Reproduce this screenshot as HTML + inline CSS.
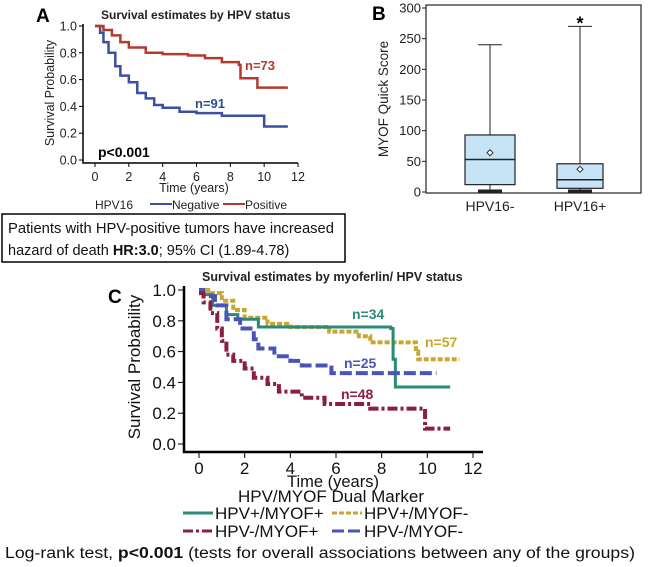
<!DOCTYPE html>
<html><head><meta charset="utf-8"><style>
body{margin:0;background:#fff;font-family:"Liberation Sans",sans-serif}
svg{display:block}
</style></head><body>
<svg id="s" width="650" height="567" xmlns="http://www.w3.org/2000/svg" font-family="Liberation Sans, sans-serif">
<g id="A"></g>
<g id="B"></g>
<g id="C"></g>
</svg>
<script>
const ns="http://www.w3.org/2000/svg";
// Panel A data
const aTicksX=[0,2,4,6,8,10,12];
const aTicksY=[0,0.2,0.4,0.6,0.8,1.0];
const aNegT=[0,0.3,0.5,0.8,1.2,1.5,2,2.5,3,3.5,4,5,6,7.5,10,11.4];
const aNegS=[1,0.95,0.88,0.8,0.7,0.63,0.58,0.5,0.46,0.41,0.39,0.36,0.35,0.33,0.25,0.25];
const aPosT=[0,0.5,1,1.5,2,3,4,5.5,6.5,7.5,8.5,8.6,9.6,11.4];
const aPosS=[1,0.97,0.93,0.88,0.84,0.8,0.79,0.78,0.76,0.73,0.71,0.61,0.54,0.54];
// Panel B data
const bCats=["HPV16-","HPV16+"];
const bMin=[0,0],bQ1=[12,6],bMed=[53,20],bQ3=[93,46],bMax=[240,270],bMean=[64,37];
const bTicks=[0,50,100,150,200,250,300];
// Panel C data
const cTicksX=[0,2,4,6,8,10,12];
const cTicksY=[0,0.2,0.4,0.6,0.8,1.0];
const c1T=[0,0.2,0.6,1.2,1.7,2.6,8.4,8.5,8.6,11];
const c1S=[1,0.97,0.9,0.84,0.81,0.76,0.75,0.55,0.37,0.37];
const c2T=[0,0.4,1,1.5,2,3,4,5.7,7,7.5,9.5,9.6,11.4];
const c2S=[1,0.98,0.93,0.87,0.82,0.78,0.76,0.73,0.7,0.66,0.6,0.55,0.55];
const c3T=[0,0.2,0.7,1.2,1.8,2.4,2.6,3.3,4,4.5,5.8,10.4];
const c3S=[1,0.96,0.9,0.81,0.75,0.68,0.62,0.57,0.54,0.51,0.46,0.46];
const c4T=[0,0.2,0.5,0.8,1,1.2,1.5,2,2.4,3,3.5,4.5,5.5,7.5,9.9,11];
const c4S=[0.98,0.92,0.85,0.75,0.67,0.58,0.54,0.49,0.43,0.39,0.34,0.3,0.26,0.23,0.1,0.1];

function el(p,tag,at,txt){const e=document.createElementNS(ns,tag);for(const k in at)e.setAttribute(k,at[k]);if(txt!==undefined)e.textContent=txt;p.appendChild(e);return e;}
function step(T,S,x,y){let d="M"+x(T[0])+","+y(S[0]);for(let i=1;i<T.length;i++){d+="H"+x(T[i])+"V"+y(S[i]);}return d;}

// ---- A
const A=document.getElementById('A');
const ax=t=>95+t*(298-95)/12, ay=v=>160-v*(160-26);
let e=el(A,'text',{x:36,y:22,'font-size':19,'font-weight':'bold'},'A');
e=el(A,'text',{x:101,y:19,'font-size':12,'font-weight':'bold',fill:'#222'},'Survival estimates by HPV status');
e=el(A,'path',{d:'M83,24V163H298',stroke:'#000','stroke-width':1.5,fill:'none'});
aTicksY.forEach(v=>{el(A,'line',{x1:79,x2:83,y1:ay(v),y2:ay(v),stroke:'#000'});e=el(A,'text',{x:77,y:ay(v)+4.5,'font-size':12.5,'text-anchor':'end',fill:'#222'},v.toFixed(1));});
aTicksX.forEach(t=>{el(A,'line',{x1:ax(t),x2:ax(t),y1:163,y2:167,stroke:'#000'});e=el(A,'text',{x:ax(t),y:181,'font-size':12.5,'text-anchor':'middle',fill:'#222'},t);});
e=el(A,'text',{x:194,y:192,'font-size':12.5,'text-anchor':'middle',fill:'#222'},'Time (years)');
e=el(A,'text',{x:54,y:93,'font-size':12.5,'text-anchor':'middle',fill:'#222',transform:'rotate(-90 54 93)'},'Survival Probability');
e=el(A,'path',{d:step(aNegT,aNegS,ax,ay),stroke:'#3a4fa5','stroke-width':2.5,fill:'none'});
e=el(A,'path',{d:step(aPosT,aPosS,ax,ay),stroke:'#b33a2e','stroke-width':2.5,fill:'none'});
e=el(A,'text',{x:245,y:70,'font-size':13,'font-weight':'bold',fill:'#b33a2e'},'n=73');
e=el(A,'text',{x:195,y:108,'font-size':13,'font-weight':'bold',fill:'#2f4d8a'},'n=91');
e=el(A,'text',{x:98,y:157,'font-size':14,'font-weight':'bold'},'p<0.001');
e=el(A,'text',{x:95,y:209,'font-size':12,fill:'#222'},'HPV16');
el(A,'line',{x1:150,x2:172,y1:204,y2:204,stroke:'#3a4fa5','stroke-width':2});
e=el(A,'text',{x:172,y:209,'font-size':12,fill:'#222'},'Negative');
el(A,'line',{x1:223,x2:245,y1:204,y2:204,stroke:'#b33a2e','stroke-width':2});
e=el(A,'text',{x:245,y:209,'font-size':12,fill:'#222'},'Positive');
e=el(A,'rect',{x:2,y:214,width:343,height:48,fill:'#fff',stroke:'#000','stroke-width':1.5});
e=el(A,'text',{x:8,y:233,'font-size':14.5,fill:'#111',textLength:326,lengthAdjust:'spacingAndGlyphs'},'Patients with HPV-positive tumors have increased');
e=el(A,'text',{x:8,y:255,'font-size':14.5,fill:'#111'});e.innerHTML='hazard of death <tspan font-weight="bold">HR:3.0</tspan>; 95% CI (1.89-4.78)';

// ---- B
const B=document.getElementById('B');
const by=v=>192-v*(192-8)/300;
e=el(B,'text',{x:372,y:20,'font-size':19,'font-weight':'bold'},'B');
e=el(B,'rect',{x:426,y:5,width:215,height:188,fill:'none',stroke:'#222','stroke-width':1.2});
bTicks.forEach(v=>{el(B,'line',{x1:422,x2:426,y1:by(v),y2:by(v),stroke:'#222'});e=el(B,'text',{x:421,y:by(v)+4.5,'font-size':13,'text-anchor':'end',fill:'#222'},v);});
e=el(B,'text',{x:388,y:99,'font-size':13.5,'text-anchor':'middle',fill:'#222',transform:'rotate(-90 388 99)'},'MYOF Quick Score');
const bx=[490,580],bw=[50,46];
bCats.forEach((c,i)=>{const x=bx[i],w=bw[i];
 el(B,'line',{x1:x,x2:x,y1:by(bMax[i]),y2:by(bQ3[i]),stroke:'#222'});
 el(B,'line',{x1:x-12,x2:x+12,y1:by(bMax[i]),y2:by(bMax[i]),stroke:'#222'});
 el(B,'line',{x1:x,x2:x,y1:by(bQ1[i]),y2:by(bMin[i]),stroke:'#222'});
 el(B,'line',{x1:x-12,x2:x+12,y1:by(bMin[i])-1,y2:by(bMin[i])-1,stroke:'#222','stroke-width':3});
 e=el(B,'rect',{x:x-w/2,y:by(bQ3[i]),width:w,height:by(bQ1[i])-by(bQ3[i]),fill:'#c6e4f6',stroke:'#222','stroke-width':1.2});
 el(B,'line',{x1:x-w/2,x2:x+w/2,y1:by(bMed[i]),y2:by(bMed[i]),stroke:'#222','stroke-width':1.5});
 const m=by(bMean[i]);el(B,'path',{d:`M${x},${m-3}L${x+3},${m}L${x},${m+3}L${x-3},${m}Z`,fill:'#fff',stroke:'#333'});
 e=el(B,'text',{x:x,y:211,'font-size':14,'text-anchor':'middle',fill:'#222'},c);
});
e=el(B,'text',{x:580,y:by(bMax[1])+3,'font-size':18,'font-weight':'bold','text-anchor':'middle'},'*');

// ---- C
const C=document.getElementById('C');
const cx=t=>199+t*(473-199)/12, cy=v=>444-v*(444-290);
e=el(C,'text',{x:108,y:303,'font-size':19,'font-weight':'bold'},'C');
e=el(C,'text',{x:202,y:281,'font-size':12.5,'font-weight':'bold',fill:'#222'},'Survival estimates by myoferlin/ HPV status');
e=el(C,'path',{d:'M184,286V452H483',stroke:'#000','stroke-width':2.5,fill:'none'});
cTicksY.forEach(v=>{el(C,'line',{x1:178,x2:184,y1:cy(v),y2:cy(v),stroke:'#000'});e=el(C,'text',{x:176,y:cy(v)+6,'font-size':17,'text-anchor':'end',fill:'#111'},v.toFixed(1));});
cTicksX.forEach(t=>{el(C,'line',{x1:cx(t),x2:cx(t),y1:452,y2:458,stroke:'#000'});e=el(C,'text',{x:cx(t),y:474,'font-size':17,'text-anchor':'middle',fill:'#111'},t);});
e=el(C,'text',{x:333,y:487,'font-size':16.5,'text-anchor':'middle',fill:'#111'},'Time (years)');
e=el(C,'text',{x:140,y:367,'font-size':17,'text-anchor':'middle',fill:'#111',transform:'rotate(-90 140 367)'},'Survival Probability');
const teal='#2a8a78',gold='#c8a632',blue='#4a54b8',mar='#8c1d45';
e=el(C,'path',{d:step(c2T,c2S,cx,cy),stroke:gold,'stroke-width':4,fill:'none','stroke-dasharray':'5,2'});
e=el(C,'path',{d:step(c1T,c1S,cx,cy),stroke:teal,'stroke-width':3,fill:'none'});
e=el(C,'path',{d:step(c3T,c3S,cx,cy),stroke:blue,'stroke-width':4,fill:'none','stroke-dasharray':'12,4'});
e=el(C,'path',{d:step(c4T,c4S,cx,cy),stroke:mar,'stroke-width':4,fill:'none','stroke-dasharray':'10,3,3,3'});
e=el(C,'text',{x:352,y:319,'font-size':14,'font-weight':'bold',fill:teal},'n=34');
e=el(C,'text',{x:425,y:347,'font-size':14,'font-weight':'bold',fill:gold},'n=57');
e=el(C,'text',{x:344,y:368,'font-size':14,'font-weight':'bold',fill:blue},'n=25');
e=el(C,'text',{x:341,y:399,'font-size':14,'font-weight':'bold',fill:mar},'n=48');
e=el(C,'text',{x:331,y:502,'font-size':17,'text-anchor':'middle',fill:'#111'},'HPV/MYOF Dual Marker');
const lg=[[183,519,teal,'none','HPV+/MYOF+'],[332,519,gold,'5,2','HPV+/MYOF-'],[183,537,mar,'10,3,3,3','HPV-/MYOF+'],[332,537,blue,'12,4','HPV-/MYOF-']];
lg.forEach(l=>{el(C,'line',{x1:l[0],x2:l[0]+30,y1:l[1]-6,y2:l[1]-6,stroke:l[2],'stroke-width':3,'stroke-dasharray':l[3]});e=el(C,'text',{x:l[0]+32,y:l[1],'font-size':17,fill:'#111'},l[4]);});
e=el(C,'text',{x:5,y:558,'font-size':15.5,fill:'#111',textLength:630,lengthAdjust:'spacingAndGlyphs'});e.innerHTML='Log-rank test, <tspan font-weight="bold">p&lt;0.001</tspan> (tests for overall associations between any of the groups)';
</script>
</body></html>
